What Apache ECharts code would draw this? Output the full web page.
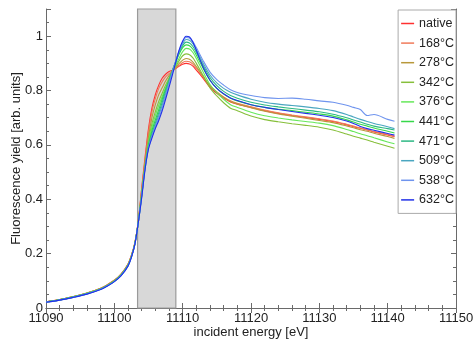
<!DOCTYPE html>
<html><head><meta charset="utf-8">
<script src="https://cdn.jsdelivr.net/npm/echarts@6/dist/echarts.min.js"></script>
<style>html,body{margin:0;padding:0;background:#fff}#c{width:476px;height:349px}</style>
</head><body><div id="c"></div>
<script>
const energy = [11090, 11092, 11094, 11096, 11098, 11099, 11100, 11101, 11102, 11102.5, 11103, 11103.5, 11104, 11104.5, 11105, 11105.5, 11106, 11106.5, 11107, 11107.5, 11108, 11108.5, 11109, 11109.5, 11110, 11110.5, 11111, 11111.5, 11112, 11113, 11114, 11115, 11116, 11117, 11118, 11120, 11122, 11124, 11126, 11128, 11130, 11132, 11134, 11135, 11136, 11137, 11138, 11140, 11141];

const seriesNames = ['native', '168°C', '278°C', '342°C', '376°C', '441°C', '471°C', '509°C', '538°C', '632°C'];
const seriesColors = ['#ff3030', '#f07a5a', '#b8983a', '#86bf3a', '#66e85a', '#36d84a', '#2cb884', '#4aa6c0', '#6f94ee', '#2030e8'];

const yNative = [0.023, 0.031, 0.042, 0.055, 0.073, 0.086, 0.102, 0.126, 0.162, 0.194, 0.240, 0.318, 0.440, 0.555, 0.660, 0.735, 0.785, 0.820, 0.845, 0.860, 0.870, 0.875, 0.882, 0.890, 0.897, 0.900, 0.898, 0.890, 0.875, 0.845, 0.812, 0.790, 0.772, 0.758, 0.750, 0.738, 0.726, 0.716, 0.708, 0.701, 0.694, 0.686, 0.674, 0.667, 0.661, 0.655, 0.648, 0.637, 0.631];
const y168 = [0.023, 0.031, 0.042, 0.055, 0.073, 0.086, 0.102, 0.125, 0.161, 0.193, 0.239, 0.317, 0.435, 0.545, 0.648, 0.722, 0.770, 0.808, 0.832, 0.850, 0.862, 0.872, 0.882, 0.893, 0.903, 0.908, 0.906, 0.897, 0.882, 0.850, 0.818, 0.795, 0.776, 0.762, 0.753, 0.740, 0.728, 0.718, 0.710, 0.703, 0.696, 0.688, 0.676, 0.669, 0.662, 0.656, 0.649, 0.638, 0.632];
const y278 = [0.023, 0.031, 0.042, 0.055, 0.072, 0.085, 0.101, 0.124, 0.160, 0.192, 0.238, 0.316, 0.428, 0.535, 0.630, 0.700, 0.748, 0.785, 0.810, 0.835, 0.855, 0.870, 0.885, 0.900, 0.912, 0.918, 0.915, 0.905, 0.888, 0.852, 0.818, 0.794, 0.775, 0.760, 0.751, 0.737, 0.724, 0.714, 0.706, 0.698, 0.690, 0.682, 0.670, 0.663, 0.656, 0.650, 0.643, 0.631, 0.624];
const y342 = [0.022, 0.030, 0.041, 0.054, 0.071, 0.084, 0.100, 0.123, 0.159, 0.191, 0.237, 0.315, 0.422, 0.526, 0.615, 0.678, 0.722, 0.760, 0.790, 0.820, 0.845, 0.870, 0.890, 0.910, 0.928, 0.935, 0.932, 0.920, 0.900, 0.855, 0.810, 0.780, 0.755, 0.735, 0.726, 0.706, 0.693, 0.685, 0.678, 0.672, 0.665, 0.655, 0.640, 0.632, 0.625, 0.618, 0.610, 0.595, 0.588];
const y376 = [0.022, 0.030, 0.041, 0.054, 0.071, 0.084, 0.100, 0.123, 0.158, 0.190, 0.236, 0.315, 0.418, 0.522, 0.608, 0.665, 0.708, 0.746, 0.778, 0.810, 0.840, 0.868, 0.895, 0.920, 0.943, 0.955, 0.953, 0.940, 0.918, 0.868, 0.822, 0.792, 0.768, 0.748, 0.738, 0.720, 0.707, 0.699, 0.692, 0.686, 0.680, 0.671, 0.657, 0.649, 0.641, 0.634, 0.626, 0.611, 0.604];
const y441 = [0.022, 0.030, 0.040, 0.053, 0.070, 0.083, 0.099, 0.122, 0.157, 0.189, 0.235, 0.314, 0.415, 0.520, 0.600, 0.652, 0.692, 0.730, 0.768, 0.805, 0.840, 0.875, 0.905, 0.935, 0.958, 0.968, 0.965, 0.952, 0.930, 0.882, 0.838, 0.808, 0.787, 0.772, 0.762, 0.748, 0.738, 0.731, 0.726, 0.720, 0.714, 0.706, 0.692, 0.684, 0.676, 0.669, 0.662, 0.650, 0.644];
const y471 = [0.022, 0.030, 0.040, 0.053, 0.070, 0.083, 0.098, 0.121, 0.156, 0.188, 0.235, 0.314, 0.412, 0.517, 0.595, 0.642, 0.680, 0.718, 0.756, 0.797, 0.836, 0.873, 0.908, 0.940, 0.965, 0.978, 0.975, 0.962, 0.940, 0.892, 0.848, 0.818, 0.797, 0.782, 0.772, 0.757, 0.747, 0.740, 0.734, 0.728, 0.722, 0.713, 0.700, 0.692, 0.684, 0.676, 0.669, 0.660, 0.655];
const y509 = [0.022, 0.030, 0.040, 0.052, 0.069, 0.082, 0.098, 0.120, 0.155, 0.187, 0.234, 0.313, 0.410, 0.515, 0.590, 0.635, 0.672, 0.708, 0.745, 0.788, 0.830, 0.872, 0.910, 0.945, 0.972, 0.988, 0.985, 0.972, 0.950, 0.900, 0.857, 0.828, 0.808, 0.794, 0.784, 0.768, 0.757, 0.750, 0.745, 0.740, 0.734, 0.726, 0.712, 0.703, 0.694, 0.686, 0.679, 0.667, 0.660];
const y538 = [0.021, 0.029, 0.039, 0.052, 0.069, 0.082, 0.097, 0.120, 0.155, 0.187, 0.234, 0.313, 0.408, 0.512, 0.588, 0.630, 0.665, 0.698, 0.735, 0.778, 0.822, 0.866, 0.908, 0.948, 0.978, 0.995, 0.993, 0.980, 0.958, 0.910, 0.868, 0.840, 0.820, 0.803, 0.793, 0.782, 0.774, 0.771, 0.772, 0.768, 0.762, 0.757, 0.746, 0.738, 0.730, 0.708, 0.712, 0.694, 0.687];
const y632 = [0.021, 0.029, 0.039, 0.051, 0.068, 0.081, 0.097, 0.119, 0.154, 0.186, 0.233, 0.312, 0.405, 0.510, 0.585, 0.625, 0.660, 0.690, 0.725, 0.768, 0.812, 0.858, 0.905, 0.950, 0.982, 1.000, 0.997, 0.978, 0.948, 0.885, 0.838, 0.808, 0.788, 0.773, 0.763, 0.748, 0.738, 0.730, 0.723, 0.716, 0.709, 0.701, 0.688, 0.679, 0.668, 0.660, 0.654, 0.642, 0.636];

const seriesValues = [yNative, y168, y278, y342, y376, y441, y471, y509, y538, y632];

const xTicks = [11090, 11100, 11110, 11120, 11130, 11140, 11150];
const yTicks = [0, 0.2, 0.4, 0.6, 0.8, 1];
const bandRange = [11103.4, 11109.0];

const FONT = 'Liberation Sans, Arial, Helvetica, sans-serif';
const chart = echarts.init(document.getElementById('c'));

const lineSeries = seriesNames.map((name, i) => ({
  name: name,
  type: 'line',
  data: energy.map((x, j) => [x, seriesValues[i][j]]),
  showSymbol: false,
  symbol: 'none',
  smooth: 0.3,
  lineStyle: { width: 1.1, color: seriesColors[i] },
  itemStyle: { color: seriesColors[i] },
  z: 3,
  silent: true
}));

const bandSeries = {
  name: 'band',
  type: 'line',
  data: [],
  z: 1,
  silent: true,
  markArea: {
    silent: true,
    itemStyle: { color: '#d8d8d8', borderColor: '#9a9a9a', borderWidth: 1.2 },
    data: [[{ xAxis: bandRange[0] }, { xAxis: bandRange[1] }]]
  }
};

const axisCommon = {
  axisLine: { show: true, lineStyle: { color: '#6a6a6a', width: 1 } },
  axisTick: { show: true, inside: true, length: 5, lineStyle: { color: '#6a6a6a' } },
  minorTick: { show: true, length: 3, lineStyle: { color: '#6a6a6a' } },
  splitLine: { show: false }
};

chart.setOption({
  animation: false,
  backgroundColor: '#ffffff',
  grid: { left: 46, right: 20, top: 9, bottom: 41, containLabel: false, outerBoundsMode: 'none' },
  legend: {
    data: seriesNames,
    orient: 'vertical',
    right: 20,
    top: 10,
    padding: [6, 2, 6, 3],
    itemGap: 4.6,
    itemWidth: 13,
    itemHeight: 1.5,
    icon: 'rect',
    backgroundColor: '#ffffff',
    borderColor: '#aaaaaa',
    borderWidth: 1,
    textStyle: { fontFamily: FONT, fontSize: 12.5, color: '#222', lineHeight: 15 }
  },
  xAxis: [
    Object.assign({}, axisCommon, {
      type: 'value', min: xTicks[0], max: xTicks[xTicks.length - 1], interval: 10,
      minorTick: Object.assign({}, axisCommon.minorTick, { splitNumber: 5 }),
      name: 'incident energy [eV]', nameLocation: 'middle', nameGap: 18, nameMoveOverlap: false,
      nameTextStyle: { fontFamily: FONT, fontSize: 13, color: '#222' },
      axisLabel: { fontFamily: FONT, fontSize: 13, color: '#222', margin: 4, formatter: v => String(v) }
    }),
    Object.assign({}, axisCommon, {
      type: 'value', position: 'top', min: xTicks[0], max: xTicks[xTicks.length - 1], interval: 10,
      minorTick: Object.assign({}, axisCommon.minorTick, { splitNumber: 5 }),
      axisLabel: { show: false }
    })
  ],
  yAxis: [
    Object.assign({}, axisCommon, {
      type: 'value', min: 0, max: 1.1, interval: 0.2,
      minorTick: Object.assign({}, axisCommon.minorTick, { splitNumber: 4 }),
      name: 'Fluorescence yield [arb. units]', nameLocation: 'middle', nameGap: 23, nameMoveOverlap: false,
      nameTextStyle: { fontFamily: FONT, fontSize: 13, color: '#222' },
      axisLabel: { fontFamily: FONT, fontSize: 13, color: '#222', margin: 3, showMaxLabel: false,
        formatter: v => (yTicks.some(t => Math.abs(t - v) < 1e-9) ? String(+v.toFixed(1)) : '') }
    }),
    Object.assign({}, axisCommon, {
      type: 'value', position: 'right', min: 0, max: 1.1, interval: 0.2,
      minorTick: Object.assign({}, axisCommon.minorTick, { splitNumber: 4 }),
      axisLabel: { show: false }
    })
  ],
  series: [bandSeries].concat(lineSeries)
});
</script>
</body></html>
